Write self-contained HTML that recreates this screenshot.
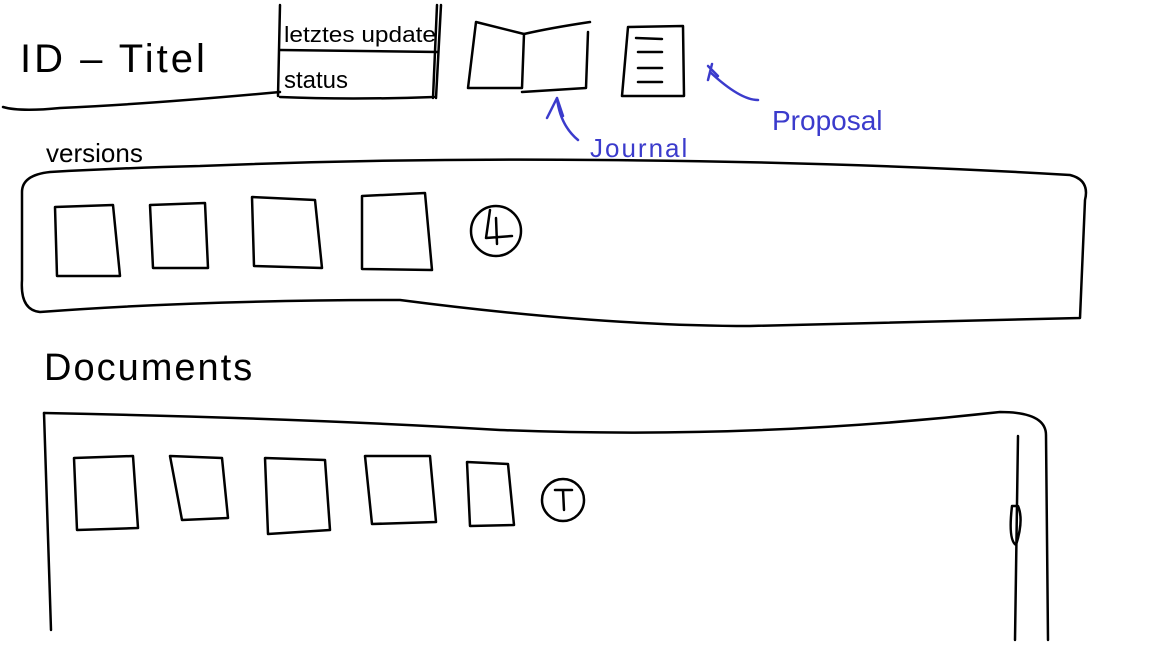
<!DOCTYPE html>
<html><head><meta charset="utf-8"><style>
html,body{margin:0;padding:0;background:#fff;width:1152px;height:648px;overflow:hidden}
svg{display:block}
text{font-family:"Liberation Sans",sans-serif}
</style></head><body>
<svg width="1152" height="648" viewBox="0 0 1152 648" fill="none" stroke="#000" stroke-width="2.5" stroke-linecap="round" stroke-linejoin="round">
<!-- header -->
<text x="20" y="72" font-size="40" fill="#000" stroke="none" style="letter-spacing:3px">ID – Titel</text>
<path d="M3 107 Q20 112 60 108 Q150 104 280 92"/>
<path d="M280 5 L278 96 M280 97 Q350 100 434 97 M437 5 L433 98 M441 5 L436 98"/>
<path d="M280 50 L438 52"/>
<text x="284" y="42" font-size="22" fill="#000" stroke="none" textLength="152" lengthAdjust="spacingAndGlyphs">letztes update</text>
<text x="284" y="88" font-size="24" fill="#000" stroke="none">status</text>
<!-- journal -->
<path d="M476 22 L524 34 L522 88 L468 88 Z"/>
<path d="M524 34 Q550 28 590 22 M588 32 L586 88 L522 92"/>
<!-- proposal doc -->
<path d="M628 27 L683 26 L684 96 L622 96 Z"/>
<path d="M636 38 L662 39 M638 52 L662 52 M638 68 L662 68 M638 82 L662 82"/>
<g stroke="#3b3bcc">
<path d="M557 98 L547 118 M557 98 L563 116 M557 98 Q560 125 578 140"/>
<path d="M708 66 L718 76 M712 64 L708 80 M710 72 Q740 100 758 100"/>
</g>
<text x="590" y="157" font-size="26" fill="#3b3bcc" stroke="none" style="letter-spacing:2px">Journal</text>
<text x="772" y="130" font-size="28" fill="#3b3bcc" stroke="none">Proposal</text>
<!-- versions -->
<text x="46" y="162" font-size="26" fill="#000" stroke="none">versions</text>
<path d="M200 166 Q400 158 600 160 Q850 162 1070 175 Q1090 180 1085 200 L1080 318 Q900 322 750 326 Q600 326 400 300 Q200 300 40 312 Q20 310 22 280 L22 192 Q22 175 50 172 Q120 168 200 166"/>
<path d="M55 207 L113 205 L120 276 L57 276 Z"/>
<path d="M150 205 L205 203 L208 268 L153 268 Z"/>
<path d="M252 197 L315 200 L322 268 L254 266 Z"/>
<path d="M362 196 L425 193 L432 270 L362 269 Z"/>
<circle cx="496" cy="231" r="25"/>
<path d="M490 210 L486 238 L512 236 M496 218 L497 244"/>
<!-- documents -->
<text x="44" y="380" font-size="38" fill="#000" stroke="none" style="letter-spacing:2px">Documents</text>
<path d="M44 413 Q300 418 500 430 Q750 440 1000 412 Q1046 412 1046 435 L1048 640"/>
<path d="M44 413 L51 630"/>
<path d="M1018 436 L1015 640 M1012 506 Q1008 540 1016 545 Q1024 520 1018 506 Z"/>
<path d="M74 458 L133 456 L138 528 L77 530 Z"/>
<path d="M170 456 L222 458 L228 518 L182 520 Z"/>
<path d="M265 458 L325 460 L330 530 L268 534 Z"/>
<path d="M365 456 L430 456 L436 522 L372 524 Z"/>
<path d="M467 462 L508 464 L514 525 L470 526 Z"/>
<circle cx="563" cy="500" r="21"/>
<path d="M555 490 L572 490 M563 490 L564 510"/>
</svg>
</body></html>
